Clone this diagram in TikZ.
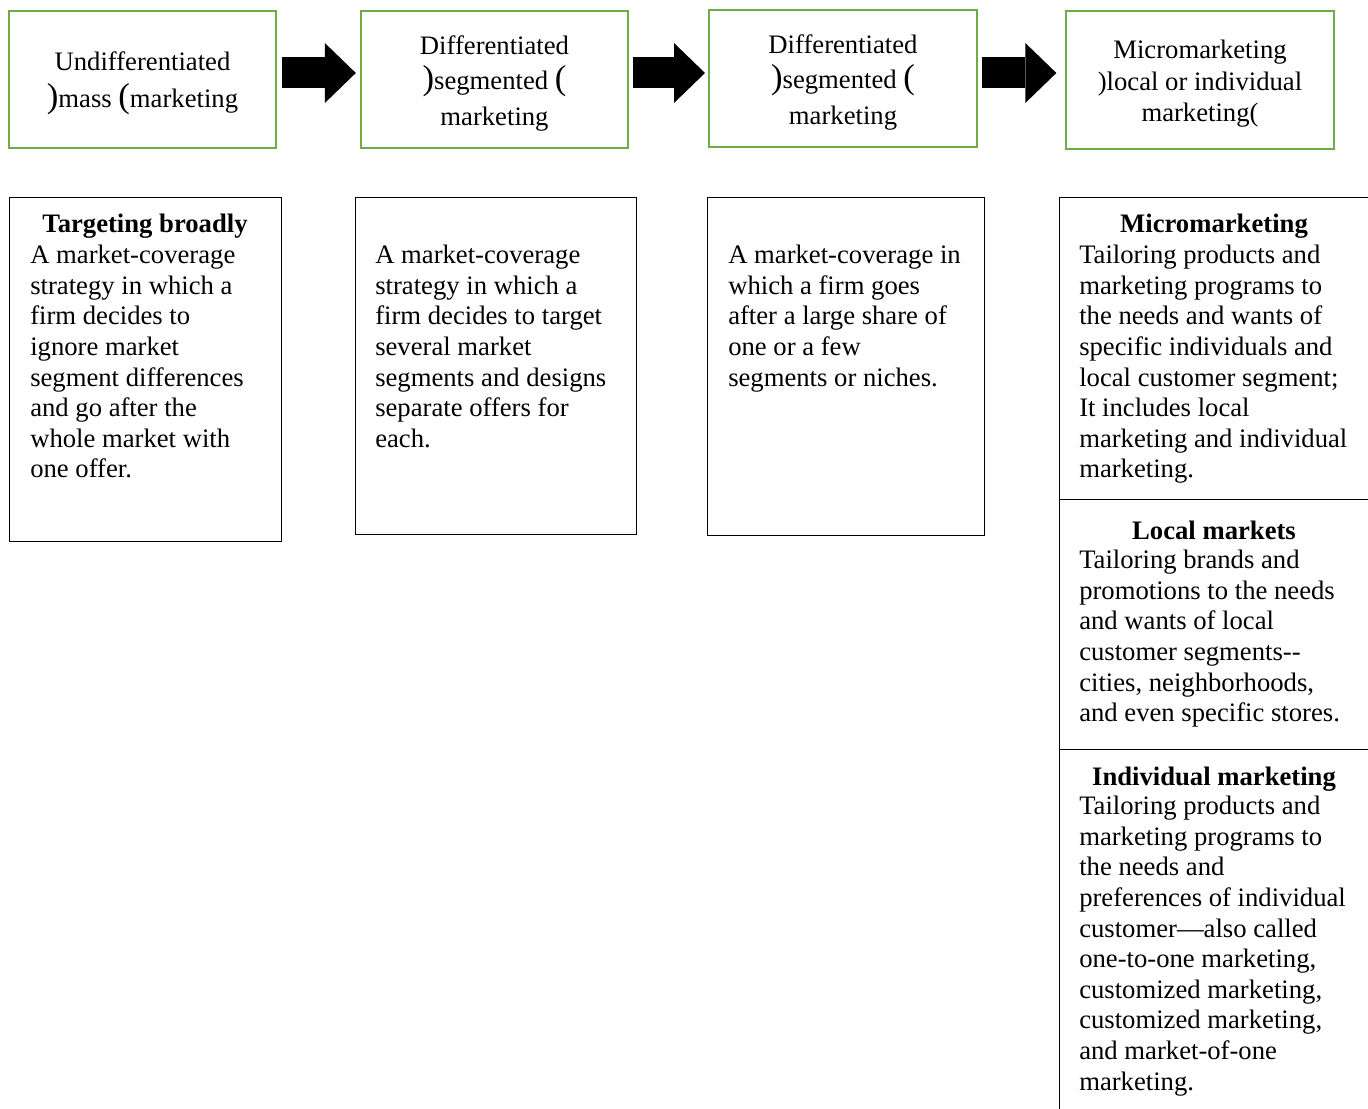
\documentclass[tikz,border=0pt]{standalone}
\usepackage{fontspec}
\setmainfont{Liberation Serif}
\usetikzlibrary{arrows.meta}
\definecolor{boxgreen}{RGB}{112,173,71}
\newcommand{\tallp}[1]{{\fontsize{26}{26}\selectfont #1}}
\newcommand{\upstrut}{\rule{0pt}{20pt}}

\begin{document}
\begin{tikzpicture}[x=0.75pt,y=-0.75pt,
  stage/.style={draw=boxgreen,line width=1.5pt,minimum width=200.5pt,minimum height=103pt,
    inner sep=0pt,align=center,font=\fontsize{20}{26.5}\selectfont},
  info/.style={draw=black,line width=0.8pt,anchor=north west,inner sep=0pt},
  head/.style={anchor=base,inner sep=0pt,font=\fontsize{20}{22.95}\selectfont\bfseries},
  desc/.style={anchor=north west,inner sep=0pt,align=left,font=\fontsize{20}{22.95}\selectfont},
  blockarrow/.style={line width=23.25pt,-{Triangle[length=23.25pt,width=45pt,line width=0pt]}}]
  \useasboundingbox (0,0) rectangle (1368,1109);
  \clip (0,0) rectangle (1368,1109);

  \node[stage] (s1) at (142.5,79.5){\upstrut Undifferentiated\\[1.5pt]\tallp{)}mass \tallp{(}marketing};
  \node[stage] (s2) at (494.5,79.5){\upstrut Differentiated\\\tallp{)}segmented \tallp{(}\\marketing};
  \node[stage] (s3) at (843,78.5){\upstrut Differentiated\\\tallp{)}segmented \tallp{(}\\marketing};
  \node[stage,font=\fontsize{20}{23.6}\selectfont] (s4) at (1200,80){\upstrut Micromarketing\\)local or individual\\marketing(};

  \draw[blockarrow,shorten <=3.75pt,shorten >=3pt] (s1.east |- 0,73) -- (s2.west |- 0,73);
  \draw[blockarrow,shorten <=2.5pt,shorten >=2.5pt] (s2.east |- 0,73) -- (s3.west |- 0,73);
  \draw[blockarrow,shorten <=3pt,shorten >=6.75pt] (s3.east |- 0,73) -- (s4.west |- 0,73);

  \node[info,minimum width=204pt,minimum height=258pt] (b1) at (9,197){};
  \node[info,minimum width=210.75pt,minimum height=252.75pt] (b2) at (355,197){};
  \node[info,minimum width=207.75pt,minimum height=253.5pt] (b3) at (707,197){};
  \node[info,minimum width=256pt,minimum height=226.5pt] (m1) at (1059,197){};
  \node[info,minimum width=256pt,minimum height=187.5pt] (m2) at (1059,499){};
  \node[info,minimum width=256pt,minimum height=286pt] (m3) at (1059,749){};

  \node[head] (t1) at (145,233){Targeting broadly};
  \node[desc] (d1) at (30,245){A market-coverage\\strategy in which a\\firm decides to\\ignore market\\
    segment differences\\and go after the\\whole market with\\one offer.};
  \node[desc] (d2) at (375,245){A market-coverage\\strategy in which a\\firm decides to target\\
    several market\\segments and designs\\separate offers for\\each.};
  \node[desc] (d3) at (728,245){A market-coverage in\\which a firm goes\\after a large share of\\
    one or a few\\segments or niches.};

  \node[head] (t4) at (1214,233){Micromarketing};
  \node[desc] (d4) at (1079,245){Tailoring products and\\marketing programs to\\the needs and wants of\\
    specific individuals and\\local customer segment;\\It includes local\\marketing and individual\\marketing.};
  \node[head] (t5) at (1214,539){Local markets};
  \node[desc] (d5) at (1079,550){Tailoring brands and\\promotions to the needs\\and wants of local\\
    customer segments-\kern0pt-\\cities, neighborhoods,\\and even specific stores.};
  \node[head] (t6) at (1214,785){Individual marketing};
  \node[desc] (d6) at (1079,796){Tailoring products and\\marketing programs to\\the needs and\\
    preferences of individual\\customer---also called\\one-to-one marketing,\\customized marketing,\\
    customized marketing,\\and market-of-one\\marketing.};

\end{tikzpicture}
\end{document}
